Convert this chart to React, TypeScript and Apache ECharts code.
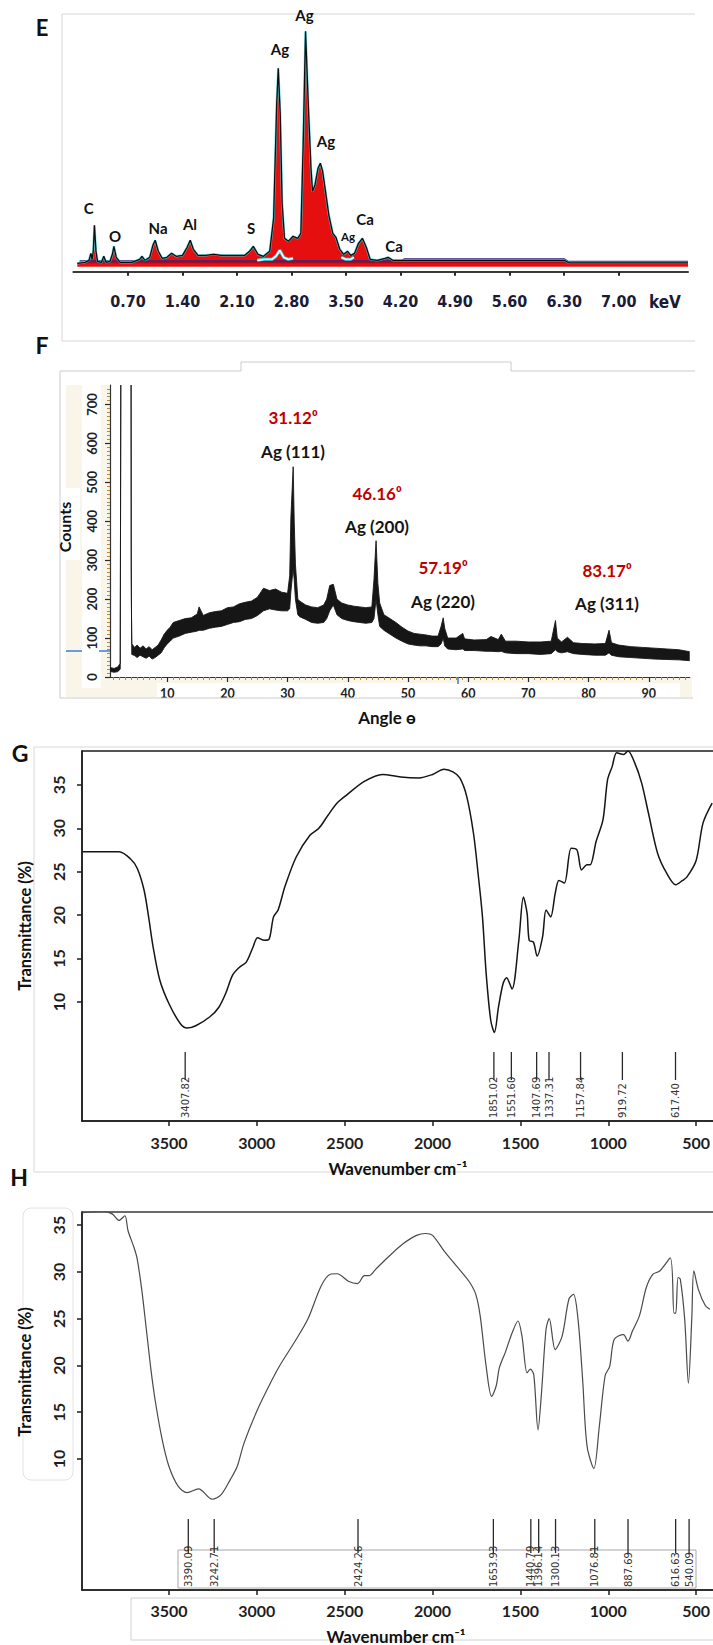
import React, { useEffect, useRef } from "react";
import * as echarts from "echarts";

// ---------------- Panel E : EDS spectrum ----------------
const edsKeV = [0.05,0.15,0.2,0.225,0.24,0.255,0.27,0.29,0.31,0.36,0.39,0.42,0.47,0.5,0.52,0.55,0.6,0.75,0.85,0.88,0.92,0.98,1.02,1.05,1.09,1.14,1.2,1.26,1.32,1.4,1.46,1.5,1.54,1.6,1.7,1.8,1.9,2.0,2.1,2.2,2.26,2.31,2.37,2.44,2.52,2.57,2.61,2.63,2.655,2.68,2.71,2.76,2.82,2.88,2.92,2.95,2.98,3.02,3.05,3.07,3.1,3.14,3.17,3.2,3.24,3.28,3.33,3.37,3.42,3.47,3.52,3.56,3.61,3.66,3.71,3.76,3.81,3.9,4.0,4.04,4.1,4.2,6.3,6.36,7.89];
const edsCounts = [0,1,3,10,4,12,38,12,2,1,7,1,2,9,17,6,1,1,4,7,3,6,18,23,12,5,6,10,7,8,16,23,14,8,8,9,8,8,8,8,12,17,9,7,12,45,160,195,150,60,25,22,27,25,30,120,232,150,95,72,78,95,100,92,70,48,30,26,14,9,12,8,10,20,25,16,4,3,5,6,3,3,3,0.5,0.5];
const edsBaseKeV = [0.08, 4.2, 4.25, 6.3, 6.35, 7.89];
const edsBaseLevel = [2.5, 2.5, 4.5, 4.5, 2, 2];
const edsBgKeV = [2.36, 2.45, 2.55, 2.6, 2.65, 2.7, 2.76, 2.82, 3.1, 3.44, 3.5, 3.56, 3.6];
const edsBgLevel = [3, 4, 4, 7, 13, 6, 4, 5, null, 6, 4, 4, 6];
const edsTicks = [0.7, 1.4, 2.1, 2.8, 3.5, 4.2, 4.9, 5.6, 6.3, 7.0];
const edsPeakNames = ["C", "O", "Na", "Al", "S", "Ag", "Ag", "Ag", "Ag", "Ca", "Ca"];

// ---------------- Panel F : XRD ----------------
const xrdAngle = [0.6,1.2,1.8,2.2,2.3,4.0,4.03,4.06,4.12,4.6,5.0,5.5,6.0,6.5,7.0,7.5,8.0,8.5,9.0,9.5,10.0,10.5,11.0,12,13,14,15,15.3,16,17,18,19,20,21,22,23,24,25,26,27,28,29,30,30.35,30.55,30.93,31.1,31.3,31.7,32,33,34,35,36,36.5,37.0,37.6,38.2,39,40,41,42,43,44,44.35,44.7,45.0,45.3,46,47,48,49,50,51,52,53,54,55,55.5,55.85,56.1,56.6,58,59.1,59.4,61,63,63.8,65,65.5,66.2,68,70,72,73.8,74.5,74.8,75.5,76.5,77.5,79,81,82.8,83.4,83.8,85,87,89,91,93,95,96.8];
const xrdUpper = [24,22,26,35,800,800,300,190,85,76,82,74,80,72,78,70,76,82,95,110,120,128,140,145,150,152,162,180,158,165,168,170,178,180,188,192,195,205,228,222,226,218,215,260,410,540,400,290,200,195,185,180,178,185,200,235,238,200,190,185,182,180,178,180,250,350,240,190,160,150,140,128,118,112,110,108,105,105,130,152,125,100,100,112,98,95,96,104,96,110,92,92,90,90,92,145,100,90,102,88,86,85,86,120,88,82,78,76,74,72,70,65];
const xrdLower = [14,12,14,20,800,800,280,180,58,55,50,56,52,48,54,46,50,56,62,75,85,92,100,105,112,115,118,120,120,125,128,130,135,140,142,148,150,158,170,175,172,170,170,175,220,280,250,200,160,155,148,140,138,140,150,170,185,160,150,145,142,140,138,140,150,200,160,130,120,110,100,92,85,82,80,80,78,78,85,100,80,72,70,72,68,68,66,66,65,66,62,60,60,58,60,70,65,62,65,60,58,56,56,62,56,52,50,48,46,45,44,42];
const xrdTicks = [10, 20, 30, 40, 50, 60, 70, 80, 90];
const xrdCountTicks = [0, 100, 200, 300, 400, 500, 600, 700];
const xrdPeakAngles = ["31.12⁰", "46.16⁰", "57.19⁰", "83.17⁰"];
const xrdPeakPlanes = ["Ag (111)", "Ag (200)", "Ag (220)", "Ag (311)"];

// ---------------- Panel G : FTIR ----------------
const gWavenumber = [3991,3784,3720,3681,3642,3616,3590,3552,3500,3435,3397,3345,3267,3216,3177,3138,3099,3060,3022,2996,2957,2931,2905,2879,2840,2776,2698,2647,2595,2543,2491,2388,2285,2181,2078,2000,1935,1884,1845,1806,1767,1741,1716,1695,1669,1648,1625,1599,1579,1548,1509,1483,1462,1450,1426,1405,1374,1354,1328,1302,1281,1250,1211,1178,1152,1121,1103,1069,1030,1004,978,952,913,888,849,810,771,719,667,616,577,552,500,461,409];
const gTransmittance = [27.3,27.3,26.5,25.4,22.9,19.8,16.3,12.5,9.8,7.5,7.0,7.3,8.3,9.4,11.0,13.1,14.0,14.6,16.3,17.4,17.1,17.2,19.8,20.6,23.3,26.7,29.2,30.0,31.5,32.9,33.8,35.4,36.2,35.9,35.8,36.2,36.8,36.5,35.8,33.7,29.4,24.8,19.8,13.3,7.9,6.5,9.4,12.1,12.8,11.5,17.1,22.1,20.2,17.1,16.9,15.3,17.5,20.6,19.8,22.5,24.0,23.7,27.7,27.5,25.2,25.8,25.8,28.5,31.0,35.6,37.1,38.7,38.5,38.9,37.5,35.2,31.7,27.1,24.8,23.5,24.0,24.4,26.3,30.6,32.9];
const gPeakPositions = [3407.82, 1651.02, 1551.6, 1407.69, 1337.31, 1157.84, 919.72, 617.4];
const gPeakLabels = ["3407.82", "1851.02", "1551.60", "1407.69", "1337.31", "1157.84", "919.72", "617.40"];

// ---------------- Panel H : FTIR ----------------
const hWavenumber = [3994,3953,3875,3823,3784,3751,3733,3699,3681,3655,3629,3603,3578,3539,3500,3448,3397,3332,3254,3203,3151,3112,3073,2996,2918,2866,2789,2711,2634,2582,2543,2479,2427,2388,2362,2323,2246,2168,2091,2039,2000,1935,1858,1793,1754,1729,1695,1664,1638,1620,1586,1547,1514,1491,1462,1444,1424,1400,1380,1354,1336,1302,1263,1224,1198,1172,1146,1121,1082,1051,1018,992,966,914,888,862,823,784,746,707,647,626,616,603,590,565,544,525,513,487,448,422];
const hTransmittance = [36.3,36.4,36.5,36.2,35.5,36.0,34.4,32.6,31.4,28.1,23.9,19.6,16.2,12.1,9.2,7.1,6.4,6.8,5.7,6.2,7.8,9.2,11.7,15.3,18.3,20.1,22.4,24.9,28.5,29.75,29.8,29.0,28.75,29.6,29.6,30.3,31.7,33.0,33.9,34.1,33.9,32.25,30.5,29.0,27.6,25.3,19.9,16.7,17.8,19.75,21.4,23.5,24.75,23.1,19.2,19.6,19.0,13.1,17.1,23.9,25.0,21.7,23.1,27.1,27.6,24.9,18.5,11.4,9.0,13.5,18.9,19.9,22.8,23.3,22.6,23.7,25.3,28.3,29.75,30.1,31.5,25.6,25.6,29.4,29.2,24.9,18.1,24.9,30.1,28.1,26.4,26.0];
const hPeakPositions = [3390.09, 3242.71, 2424.26, 1653.93, 1440.79, 1396.14, 1300.13, 1076.81, 887.69, 616.63, 540.09];
const hPeakLabels = ["3390.09", "3242.71", "2424.26", "1653.93", "1440.79", "1396.14", "1300.13", "1076.81", "887.69", "616.63", "540.09"];

const ftirTicks = [500, 1000, 1500, 2000, 2500, 3000, 3500];
const transTicks = [10, 15, 20, 25, 30, 35];

// ---------------- styling helpers ----------------
const LATO = "Lato, 'Open Sans', 'Liberation Sans', sans-serif";
const NARROW = "'Liberation Sans Narrow', 'DejaVu Sans Condensed', 'Liberation Sans', sans-serif";
const THIN = "'DejaVu Sans', 'Liberation Sans', sans-serif";

function txt(text: string, x: number, y: number, size: number, o: any = {}) {
  return {
    type: "text",
    x,
    y,
    rotation: o.rot || 0,
    z: 10,
    style: {
      text,
      fill: o.fill || "#111",
      fontSize: size,
      fontFamily: o.family || LATO,
      fontWeight: o.weight || "bold",
      align: "center",
      verticalAlign: "middle",
      textAlign: "center",
      textVerticalAlign: "middle",
    },
  };
}
function pline(points: number[][], stroke: string, width = 1, z = 1) {
  return { type: "polyline", z, shape: { points }, style: { stroke, lineWidth: width, fill: "none" } };
}
function rect(x: number, y: number, w: number, h: number, style: any, z = -1, r = 0) {
  return { type: "rect", z, shape: { x, y, width: w, height: h, r }, style };
}

function peakMarkers(xi: number, yi: number, positions: number[], labels: string[], top: number, bottom: number, base: number) {
  return {
    type: "custom",
    xAxisIndex: xi,
    yAxisIndex: yi,
    silent: true,
    z: 4,
    data: positions.map((p, i) => [p, i]),
    renderItem: (params: any, api: any) => {
      const v = api.value(0);
      const i = api.value(1);
      const a = api.coord([v, top]);
      const b = api.coord([v, bottom]);
      const c = api.coord([v, base]);
      return {
        type: "group",
        children: [
          { type: "line", shape: { x1: a[0], y1: a[1], x2: b[0], y2: b[1] }, style: { stroke: "#2a2a2a", lineWidth: 1.3 } },
          {
            type: "text",
            x: c[0],
            y: c[1],
            rotation: Math.PI / 2,
            style: {
              text: labels[i],
              fill: "#333",
              fontSize: 10,
              fontFamily: THIN,
              align: "left",
              verticalAlign: "middle",
              textAlign: "left",
              textVerticalAlign: "middle",
            },
          },
        ],
      };
    },
  };
}

function ftirX(gridIndex: number, margin: number) {
  return {
    gridIndex,
    type: "value",
    inverse: true,
    min: 387,
    max: 3995,
    position: "bottom",
    splitLine: { show: false },
    axisLine: { show: true, onZero: false, lineStyle: { color: "#1e1e1e", width: 1.5 } },
    axisTick: { show: true, customValues: ftirTicks, length: 5, lineStyle: { color: "#1e1e1e", width: 1.5 } },
    axisLabel: { customValues: ftirTicks, formatter: (v: number) => String(v), fontFamily: LATO, fontWeight: "bold", fontSize: 16, color: "#1e1e1e", margin },
  };
}
function ftirY(gridIndex: number, min: number, max: number) {
  return {
    gridIndex,
    type: "value",
    min,
    max,
    position: "left",
    splitLine: { show: false },
    axisLine: { show: true, onZero: false, lineStyle: { color: "#1e1e1e", width: 1.5 } },
    axisTick: { show: true, customValues: transTicks, length: 5, lineStyle: { color: "#1e1e1e", width: 1.5 } },
    axisLabel: { customValues: transTicks, formatter: (v: number) => String(v), rotate: 90, fontFamily: LATO, fontWeight: "bold", fontSize: 16, color: "#1e1e1e", margin: 16 },
  };
}

function buildOption() {
  const edsData = edsKeV.map((k, i) => [k, edsCounts[i]]);
  const edsBase = edsBaseKeV.map((k, i) => [k, edsBaseLevel[i]]);
  const edsBg = edsBgKeV.map((k, i) => [k, edsBgLevel[i] === null ? "-" : edsBgLevel[i]]);

  const xrdMinorX: number[] = [];
  for (let a = 1; a <= 96; a++) if (a % 10 !== 0) xrdMinorX.push(a);
  const xrdMinorY: number[] = [];
  for (let c = 10; c <= 740; c += 10) if (c % 100 !== 0) xrdMinorY.push(c);

  const edsLabelPos = [
    [88.6, 208, 15], [115, 236, 15], [158, 228, 15], [190, 224, 15], [251, 228, 15],
    [280, 49, 15], [304.5, 15, 15], [326, 141, 15], [348, 236, 11.5], [365, 219, 15], [394, 246, 15],
  ];
  const xrdLabelPos = [[293, 417, 451], [377, 493, 526], [443, 567, 601], [607, 570, 603]];

  const graphic: any[] = [
    // ----- E -----
    pline([[695, 14], [62, 14], [62, 341], [695, 341]], "#d6d6d6", 1),
    txt("E", 42, 27, 22),
    ...edsPeakNames.map((n, i) => txt(n, edsLabelPos[i][0], edsLabelPos[i][1], edsLabelPos[i][2])),
    txt("keV", 665, 302, 17, { family: NARROW, fill: "#1b1b35" }),
    // ----- F -----
    pline([[695, 371], [511, 371], [511, 362], [241, 362], [241, 371], [60, 371], [60, 698], [693, 698]], "#cccccc", 1),
    txt("F", 42, 345, 23),
    rect(66, 385, 626, 312, { fill: "#faf5e9" }, -3),
    rect(110, 385, 582, 292, { fill: "#ffffff" }, -2),
    rect(82, 385, 19, 303, { fill: "#ffffff" }, -2),
    rect(59, 488, 21, 72, { fill: "#ffffff" }, -2),
    rect(157, 683, 523, 17, { fill: "#ffffff" }, -2),
    { type: "line", z: 1, shape: { x1: 66, y1: 651, x2: 82, y2: 651 }, style: { stroke: "#3b7dd8", lineWidth: 1.5 } },
    { type: "line", z: 1, shape: { x1: 99, y1: 651, x2: 110, y2: 651 }, style: { stroke: "#3b7dd8", lineWidth: 1.5 } },
    { type: "line", z: 1, shape: { x1: 458, y1: 677, x2: 458, y2: 684 }, style: { stroke: "#3b7dd8", lineWidth: 1.5 } },
    txt("Counts", 64, 527, 16, { rot: Math.PI / 2 }),
    txt("Angle ɵ", 387, 717, 17),
    ...xrdPeakAngles.map((t, i) => txt(t, xrdLabelPos[i][0], xrdLabelPos[i][1], 17, { fill: "#c00000" })),
    ...xrdPeakPlanes.map((t, i) => txt(t, xrdLabelPos[i][0], xrdLabelPos[i][2], 17, { fill: "#141414" })),
    // ----- G -----
    pline([[713, 747], [34, 747], [34, 1172], [713, 1172]], "#d8d8d8", 1),
    txt("G", 20, 753, 23),
    txt("Transmittance (%)", 25, 926, 16.5, { rot: Math.PI / 2 }),
    txt("Wavenumber cm⁻¹", 398, 1168, 17),
    // ----- H -----
    txt("H", 19, 1177, 23),
    rect(23, 1208, 50, 272, { fill: "none", stroke: "#e2e2e2", lineWidth: 1 }, 0, 8),
    rect(178, 1550, 518, 38, { fill: "none", stroke: "#a8a8a8", lineWidth: 1 }, 0),
    rect(131, 1598, 600, 42, { fill: "none", stroke: "#d0d0d0", lineWidth: 1 }, 0),
    txt("Transmittance (%)", 25, 1372, 16.5, { rot: Math.PI / 2 }),
    txt("Wavenumber cm⁻¹", 396, 1636, 17),
  ];

  return {
    animation: false,
    backgroundColor: "#ffffff",
    grid: [
      { left: 73.4, top: 23.3, width: 614.6, height: 248.4, show: false, outerBoundsMode: "none", containLabel: false },
      { left: 110, top: 385, width: 579.7, height: 292, show: false, outerBoundsMode: "none", containLabel: false },
      { left: 82, top: 751, width: 634, height: 370, show: true, borderColor: "#1e1e1e", borderWidth: 1.5, outerBoundsMode: "none", containLabel: false },
      { left: 82, top: 1212, width: 634, height: 378, show: true, borderColor: "#3a3a3a", borderWidth: 1.5, outerBoundsMode: "none", containLabel: false },
    ],
    xAxis: [
      {
        gridIndex: 0, type: "value", min: 0, max: 7.89, position: "bottom",
        splitLine: { show: false },
        axisLine: { show: true, onZero: false, lineStyle: { color: "#3a3a3a", width: 2 } },
        axisTick: { show: true, customValues: edsTicks, length: 4, lineStyle: { color: "#2a2a2a", width: 2 } },
        axisLabel: { customValues: edsTicks, formatter: (v: number) => v.toFixed(2), fontFamily: NARROW, fontWeight: "bold", fontSize: 16, color: "#1b1b35", margin: 22 },
      },
      {
        gridIndex: 1, type: "value", min: 0.5, max: 96.8, position: "bottom",
        splitLine: { show: false },
        axisLine: { show: true, onZero: false, lineStyle: { color: "#333", width: 1.2 } },
        axisTick: { show: true, customValues: xrdTicks, length: 5, lineStyle: { color: "#2a2a2a", width: 1.2 } },
        axisLabel: { customValues: xrdTicks, fontFamily: LATO, fontWeight: "bold", fontSize: 12.5, color: "#222", margin: 10 },
      },
      {
        gridIndex: 1, type: "value", min: 0.5, max: 96.8, position: "bottom",
        splitLine: { show: false },
        axisLine: { show: false, onZero: false },
        axisTick: { show: true, customValues: xrdMinorX, length: 3, lineStyle: { color: "#b48a3c", width: 1 } },
        axisLabel: { show: false },
      },
      ftirX(2, 13),
      ftirX(3, 12),
    ],
    yAxis: [
      { gridIndex: 0, type: "value", min: -8.4, max: 240, show: false },
      {
        gridIndex: 1, type: "value", min: 0, max: 750, position: "left",
        splitLine: { show: false },
        axisLine: { show: true, onZero: false, lineStyle: { color: "#333", width: 1.2 } },
        axisTick: { show: true, customValues: xrdCountTicks, length: 5, lineStyle: { color: "#2a2a2a", width: 1.2 } },
        axisLabel: { customValues: xrdCountTicks, rotate: 90, fontFamily: LATO, fontWeight: "bold", fontSize: 13, color: "#222", margin: 12 },
      },
      {
        gridIndex: 1, type: "value", min: 0, max: 750, position: "left",
        splitLine: { show: false },
        axisLine: { show: false, onZero: false },
        axisTick: { show: true, customValues: xrdMinorY, length: 3, lineStyle: { color: "#b48a3c", width: 1 } },
        axisLabel: { show: false },
      },
      ftirY(2, -3.7, 38.9),
      ftirY(3, -4.0, 36.4),
    ],
    series: [
      // E
      { type: "line", xAxisIndex: 0, yAxisIndex: 0, data: edsData, symbol: "none", silent: true, z: 2,
        lineStyle: { opacity: 0 }, areaStyle: { color: "#e60f0f", opacity: 1, origin: -3.5 } },
      { type: "line", xAxisIndex: 0, yAxisIndex: 0, data: edsBase, symbol: "none", silent: true, z: 3,
        lineStyle: { color: "#2c2a88", width: 1.3 }, areaStyle: { color: "rgba(70,0,50,0.5)", origin: 0 } },
      { type: "line", xAxisIndex: 0, yAxisIndex: 0, data: edsData, symbol: "none", silent: true, z: 4,
        lineStyle: { color: "#48dce4", width: 2.4, opacity: 0.75 } },
      { type: "line", xAxisIndex: 0, yAxisIndex: 0, data: edsData, symbol: "none", silent: true, z: 5,
        lineStyle: { color: "#0c0c0c", width: 1.3 } },
      { type: "line", xAxisIndex: 0, yAxisIndex: 0, data: edsBg, symbol: "none", silent: true, z: 6, connectNulls: false,
        lineStyle: { color: "#48dce4", width: 3 } },
      { type: "line", xAxisIndex: 0, yAxisIndex: 0, data: edsBg, symbol: "none", silent: true, z: 7, connectNulls: false,
        lineStyle: { color: "#ffffff", width: 1.3 } },
      // F
      {
        type: "custom", xAxisIndex: 1, yAxisIndex: 1, silent: true, z: 3, data: [[50, 100]],
        renderItem: (params: any, api: any) => {
          const pts: number[][] = [];
          for (let i = 0; i < xrdAngle.length; i++) pts.push(api.coord([xrdAngle[i], xrdUpper[i]]));
          for (let i = xrdAngle.length - 1; i >= 0; i--) pts.push(api.coord([xrdAngle[i], xrdLower[i]]));
          const cs = params.coordSys;
          return {
            type: "polygon",
            shape: { points: pts },
            style: { fill: "#161616", stroke: "#161616", lineWidth: 0.9 },
            clipPath: { type: "rect", shape: { x: cs.x, y: cs.y, width: cs.width, height: cs.height } },
          };
        },
      },
      // G
      { type: "line", xAxisIndex: 3, yAxisIndex: 3, data: gWavenumber.map((w, i) => [w, gTransmittance[i]]), symbol: "none", silent: true, z: 3,
        smooth: 0.3, lineStyle: { color: "#151515", width: 1.5 } },
      peakMarkers(3, 3, gPeakPositions, gPeakLabels, 4.24, 1.02, -3.36),
      // H
      { type: "line", xAxisIndex: 4, yAxisIndex: 4, data: hWavenumber.map((w, i) => [w, hTransmittance[i]]), symbol: "none", silent: true, z: 3,
        smooth: 0.3, lineStyle: { color: "#4a4a4a", width: 1.2 } },
      peakMarkers(4, 4, hPeakPositions, hPeakLabels, 3.59, -0.05, -3.68),
    ],
    graphic,
  };
}

export default function App() {
  const ref = useRef<HTMLDivElement>(null);
  useEffect(() => {
    const chart = echarts.init(ref.current as HTMLDivElement, null, { renderer: "svg", width: 713, height: 1645 });
    chart.setOption(buildOption() as any);
    return () => chart.dispose();
  }, []);
  return <div ref={ref} style={{ position: "absolute", left: 0, top: 0, width: 713, height: 1645, background: "#fff" }} />;
}
